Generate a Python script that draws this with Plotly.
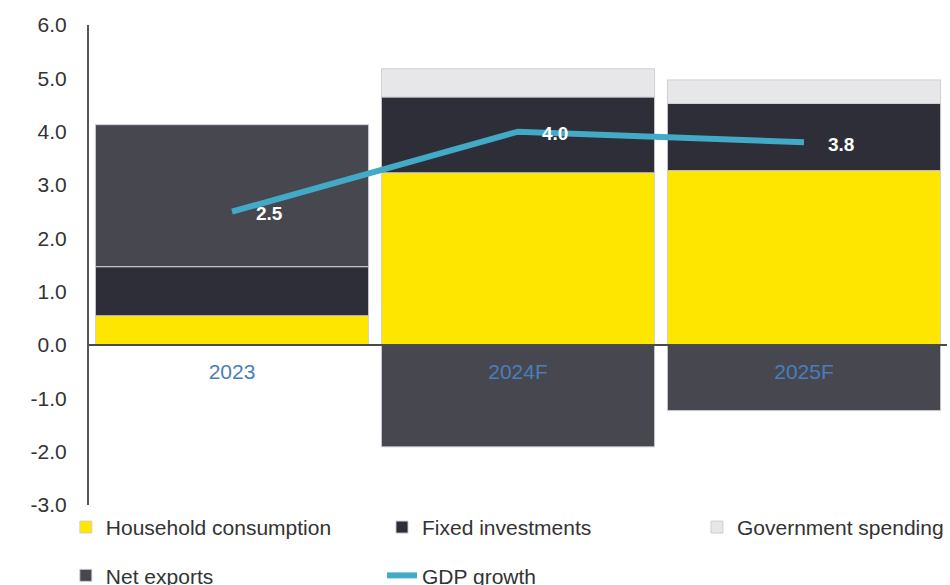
import plotly.graph_objects as go

# Contribution to GDP growth by component (percentage points)
years = ["2023", "2024F", "2025F"]
household = [0.55, 3.23, 3.27]
fixed_inv = [0.92, 1.42, 1.26]
government = [0.0, 0.53, 0.44]
net_exports = [2.66, -1.91, -1.23]
gdp_growth = [2.5, 4.0, 3.8]

y_ticks = [-3, -2, -1, 0, 1, 2, 3, 4, 5, 6]

Y_MIN, Y_MAX = -3, 6
FONT = "Liberation Sans, Arial, sans-serif"
EDGE = dict(color="rgba(205,205,210,0.9)", width=1)

fig = go.Figure()

fig.add_bar(x=years, y=household, name="Household consumption",
            marker=dict(color="#FFE600", line=EDGE),
            legend="legend", legendgroup="hc")
fig.add_bar(x=years, y=fixed_inv, name="Fixed investments",
            marker=dict(color="#2E2E38", line=EDGE),
            legend="legend2", legendgroup="fi")
fig.add_bar(x=years, y=government, name="Government spending",
            marker=dict(color="#E7E7EA", line=EDGE),
            legend="legend3", legendgroup="gs")
fig.add_bar(x=years, y=net_exports, name="Net exports",
            marker=dict(color="#474750", line=EDGE),
            legend="legend", legendgroup="ne")
fig.add_scatter(x=years, y=gdp_growth, name="GDP growth", mode="lines",
                line=dict(color="#42A9C6", width=6),
                legend="legend2", legendgroup="gdp")

# value labels beside each GDP growth point (category index positions)
for i, v in enumerate(gdp_growth):
    fig.add_annotation(x=i, y=v, text=f"<b>{v:.1f}</b>", showarrow=False,
                       xshift=37, yshift=-2,
                       font=dict(family=FONT, size=19, color="white"))

legend_common = dict(orientation="v", xanchor="left", yanchor="top",
                     y=-0.004, tracegroupgap=18,
                     font=dict(family=FONT, size=21, color="#333333"),
                     bgcolor="rgba(0,0,0,0)", itemclick=False,
                     traceorder="grouped")

fig.update_layout(
    width=950, height=585,
    margin=dict(l=89, r=3, t=25, b=80, autoexpand=False),
    paper_bgcolor="white", plot_bgcolor="white",
    barmode="relative", bargap=0.045,
    showlegend=True,
    legend=dict(x=-0.027, **legend_common),
    legend2=dict(x=0.3415, **legend_common),
    legend3=dict(x=0.7086, **legend_common),
    font=dict(family=FONT, size=21, color="#333333"),
)

# category axis sits on the zero line
fig.update_xaxes(
    type="category", range=[-0.5, 2.5],
    anchor="free", position=(0 - Y_MIN) / (Y_MAX - Y_MIN),
    showline=True, linecolor="#4a4a4a", linewidth=1.5,
    ticks="", showgrid=False, zeroline=False,
    tickfont=dict(family=FONT, size=21, color="#4A7EBB"),
    ticklabelstandoff=8,
)
fig.update_yaxes(
    range=[Y_MIN, Y_MAX],
    tickvals=y_ticks, ticktext=[f"{t:.1f}" for t in y_ticks],
    showline=True, linecolor="#555555", linewidth=2,
    showgrid=False, zeroline=False, ticks="",
    tickfont=dict(family=FONT, size=21, color="#333333"),
    ticklabelstandoff=16,
)

fig.write_html("out.html")
